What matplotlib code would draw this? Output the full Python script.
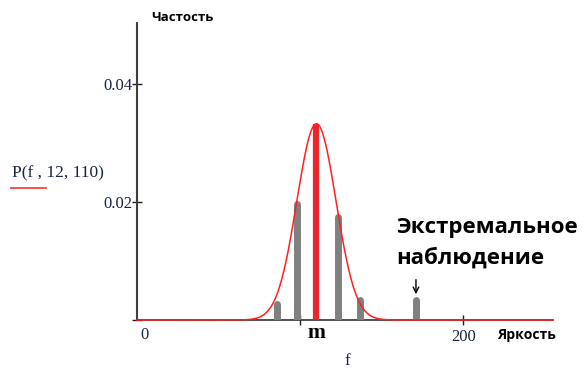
import numpy as np
import matplotlib
matplotlib.use('Agg')
import matplotlib.pyplot as plt

# gaussian parameters P(f, sigma, mean)
sigma = 12
mean = 110

# observed frequencies (stems)
bar_f = [86, 98, 123, 137, 171]
bar_h = [0.0027, 0.0197, 0.0175, 0.0034, 0.0034]
mean_h = 0.0332

f = np.linspace(0, 255, 1000)
P = np.exp(-(f - mean) ** 2 / (2 * sigma ** 2)) / (sigma * np.sqrt(2 * np.pi))

serif = 'Liberation Serif'
sans = 'Open Sans'
lbl = '#1c2440'

fig = plt.figure(figsize=(5.84, 3.69), dpi=100)
ax = fig.add_axes([0.2346, 0.1328, 0.7123, 0.8049])
ax.set_xlim(0, 255)
ax.set_ylim(0, 0.0503)

for s in ['top', 'right']:
    ax.spines[s].set_visible(False)
ax.spines['left'].set_color('#404040')
ax.spines['left'].set_linewidth(1.5)
ax.spines['bottom'].set_color('#303030')
ax.spines['bottom'].set_linewidth(1.2)

ax.set_xticks([100, 200])
ax.set_xticklabels(['', '200'], family=serif, fontsize=12, color=lbl)
ax.set_yticks([0, 0.02, 0.04])
ax.set_yticklabels(['', '0.02', '0.04'], family=serif, fontsize=12, color=lbl)
ax.tick_params(direction='inout', length=7, width=1, color='#202020', pad=0)
ax.tick_params(axis='x', pad=3)

# stems
for x, h in zip(bar_f, bar_h):
    ax.plot([x, x], [0, h], color='#808080', lw=5, solid_capstyle='round', zorder=3)
ax.plot([mean, mean], [0, mean_h], color='#e8262c', lw=4.5, solid_capstyle='butt', zorder=4)

ax.plot(f, P, color='#ff2020', lw=1.1, zorder=5, clip_on=False)

ax.text(2, -0.00254, '0', family=serif, fontsize=12,
        ha='left', va='center', color=lbl)
ax.text(mean, -0.0022, 'm', family=serif, fontsize=15.5, weight='bold',
        ha='center', va='center')
ax.text(129, -0.0069, 'f', family=serif, fontsize=12,
        ha='center', va='center', color=lbl)

ax.text(9, 0.0512, 'Частость', family=sans, weight='bold', fontsize=9.5,
        ha='left', va='center')
ax.text(221, -0.00254, 'Яркость', family=sans, weight='bold', fontsize=10,
        ha='left', va='center')
ax.text(159, 0.0174, 'Экстремальное\nнаблюдение', family=sans,
        weight='bold', fontsize=16, ha='left', va='top', linespacing=1.5)
ax.annotate('', xy=(171, 0.0039), xytext=(171, 0.0073),
            arrowprops=dict(arrowstyle='->', color='black', lw=1))

fig.text(12 / 584, 1 - 173 / 369, 'P(f , 12, 110)', family=serif,
         fontsize=12.5, ha='left', va='center', color=lbl)
fig.add_artist(plt.Line2D([11 / 584, 46 / 584], [1 - 188 / 369, 1 - 188 / 369],
                          color='#ff3030', lw=1.2))

fig.savefig('out.png', dpi=100)
